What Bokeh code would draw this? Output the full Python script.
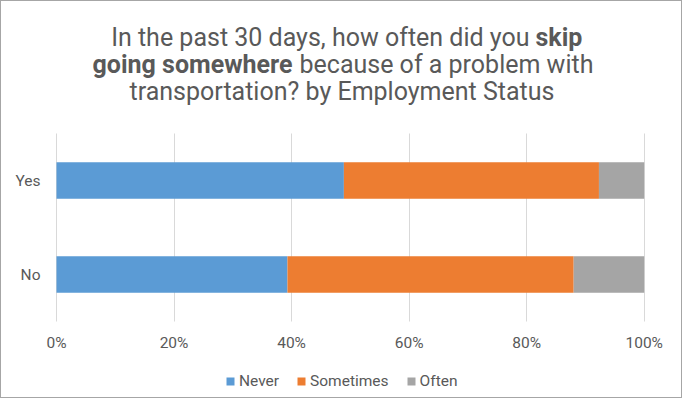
from bokeh.plotting import figure
from bokeh.models import Label, Legend, LegendItem, FixedTicker, BoxAnnotation, Range1d
from bokeh.embed import file_html
from bokeh.resources import INLINE
from bokeh.core.properties import value

categories = ["No", "Yes"]
series = ["Never", "Sometimes", "Often"]
never = [0.393, 0.489]
sometimes = [0.487, 0.434]
often = [0.120, 0.077]
colors = ["#5B9BD5", "#ED7D31", "#A5A5A5"]
x_ticks = [0, 0.2, 0.4, 0.6, 0.8, 1.0]
x_tick_labels = ["0%", "20%", "40%", "60%", "80%", "100%"]
title_l1_normal = "In the past 30 days, how often did you"
title_l1_bold = "skip"
title_l2_bold = "going somewhere"
title_l2_normal = "because of a problem with"
title_l3 = "transportation? by Employment Status"

FONT = "Roboto"
TXT = "#595959"
W, H = 682, 398
PX = 94.0                      # pixels per category band
Y_NO_ABS = 274.0               # absolute y of first category centre
X0_ABS, X1_ABS = 56.0, 643.7   # absolute x of 0% and 100%
FRAME_L, FRAME_R, FRAME_B = 43, 683, 399   # absolute frame edges

def ydata(abs_y):
    return (Y_NO_ABS - abs_y) / PX

def xdata(abs_x):
    return (abs_x - X0_ABS) / (X1_ABS - X0_ABS)

ypos = list(range(len(categories)))
data = {"y": ypos, "Never": never, "Sometimes": sometimes, "Often": often}

p = figure(width=W, height=H,
           x_range=Range1d(xdata(FRAME_L), xdata(FRAME_R)),
           y_range=Range1d(ydata(FRAME_B), ydata(1)),
           x_axis_location=None, output_backend="svg", toolbar_location=None,
           min_border_left=FRAME_L - 1, min_border_right=0, min_border_top=0, min_border_bottom=0)
p.styles = {"border": "1px solid #A6A6A6"}
p.outline_line_color = None

rs = p.hbar_stack(series, y="y", height=0.39, color=colors, source=data, line_color=None)

# grid
p.xgrid.ticker = FixedTicker(ticks=x_ticks)
p.xgrid.grid_line_color = "#D9D9D9"
p.ygrid.grid_line_color = None
band_lo, band_hi = -0.5, len(categories) - 0.5
g = p.xgrid[0]
if "cross_bounds" in g.properties():
    g.cross_bounds = (band_lo, band_hi)
else:
    p.add_layout(BoxAnnotation(bottom=band_hi, fill_color="white", fill_alpha=1,
                               line_color=None, level="underlay"))
    p.add_layout(BoxAnnotation(top=band_lo, fill_color="white", fill_alpha=1,
                               line_color=None, level="underlay"))

# category axis
ax = p.yaxis[0]
ax.ticker = FixedTicker(ticks=ypos)
ax.major_label_overrides = {i: c for i, c in zip(ypos, categories)}
ax.axis_line_color = None
ax.major_tick_line_color = None
ax.minor_tick_line_color = None
ax.major_tick_out = 0
ax.major_tick_in = 0
ax.major_label_text_font = FONT
ax.major_label_text_font_size = "15.5px"
ax.major_label_text_color = TXT
ax.major_label_standoff = 3

# value tick labels along the bottom of the bands
p.text(x=x_ticks, y=[ydata(342)] * len(x_ticks), text=x_tick_labels,
       text_align="center", text_baseline="middle", text_font=value(FONT),
       text_font_size="15.5px", text_color=TXT)

legend = Legend(items=[LegendItem(label=s, renderers=[r]) for s, r in zip(series, rs)],
                orientation="horizontal", location=(225 - FRAME_L, 9),
                glyph_width=10, glyph_height=10, label_standoff=4, spacing=17,
                padding=0, margin=0, border_line_color=None, background_fill_alpha=0,
                label_text_font=FONT, label_text_font_size="15.5px", label_text_color=TXT)
p.add_layout(legend, "center")

def lab(text, x_abs, base_abs, align, bold=False):
    return Label(x=x_abs - FRAME_L, y=FRAME_B - base_abs, x_units="screen", y_units="screen",
                 text=text, text_align=align, text_baseline="alphabetic",
                 text_font=FONT, text_font_size="25px", text_color=TXT,
                 text_font_style="bold" if bold else "normal")

p.add_layout(lab(title_l1_normal, 529, 37, "right"))
p.add_layout(lab(title_l1_bold, 535, 37, "left", True))
p.add_layout(lab(title_l2_bold, 292, 64, "right", True))
p.add_layout(lab(title_l2_normal, 299, 64, "left"))
p.add_layout(lab(title_l3, 341.5, 91, "center"))

open("out.html", "w").write(file_html(p, INLINE))
